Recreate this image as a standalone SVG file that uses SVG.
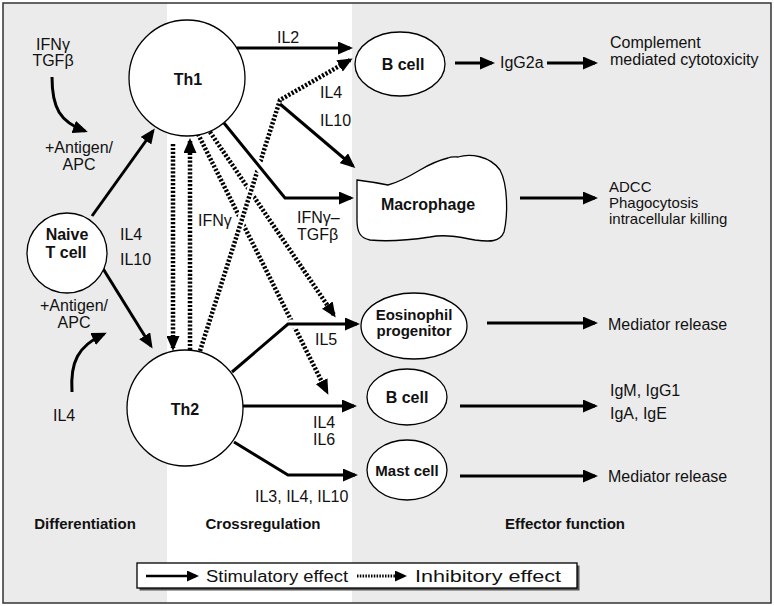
<svg xmlns="http://www.w3.org/2000/svg" width="774" height="606" viewBox="0 0 774 606">
<defs>
<marker id="ah" markerUnits="userSpaceOnUse" markerWidth="15" markerHeight="13" refX="12" refY="6.5" orient="auto">
<path d="M0,0 L15,6.5 L0,13 Z" fill="#000"/>
</marker>
<marker id="ahs" markerUnits="userSpaceOnUse" markerWidth="12" markerHeight="11" refX="9" refY="5.5" orient="auto">
<path d="M0,0 L12,5.5 L0,11 Z" fill="#000"/>
</marker>
</defs>
<style>
text{font-family:"Liberation Sans",Arial,sans-serif;font-size:16px;fill:#111}
.b{font-weight:bold}
.c{text-anchor:middle}
.sm{font-size:15px}
.node{fill:#fff;stroke:#000;stroke-width:1.3}
.s{fill:none;stroke:#000;stroke-width:3;marker-end:url(#ah)}
.d{fill:none;stroke:#000;stroke-width:4.5;stroke-dasharray:2.2 1.7;marker-end:url(#ah)}
.h{fill:none;stroke:#fff;stroke-width:9}
</style>
<rect x="0" y="0" width="774" height="606" fill="#fff"/>
<rect x="3" y="3" width="164" height="600" fill="#ebebeb"/>
<rect x="352" y="3" width="419" height="600" fill="#ebebeb"/>
<rect x="3" y="3" width="768" height="600" fill="none" stroke="#333" stroke-width="1.5"/>

<g id="connectors">
<path class="s" d="M52,77 C52,108 60,122 85,131"/>
<path class="s" d="M72,392 C70,362 78,346 104,334"/>
<line class="s" x1="92" y1="216" x2="153" y2="131"/>
<line class="s" x1="102" y1="267" x2="151" y2="346"/>
<line class="d" x1="173" y1="144" x2="173" y2="348"/>
<line class="d" x1="190" y1="350" x2="190" y2="141"/>
<line class="d" x1="210" y1="132" x2="334" y2="315"/>
<line class="d" x1="198" y1="134" x2="327" y2="392"/>
<path class="h" d="M203,338 L279,104"/>
<path class="d" d="M200,351 L280,100 L350,60"/>
<line class="s" x1="237" y1="48" x2="350" y2="48"/>
<path class="h" d="M240,143 L283,196"/>
<path class="s" d="M224,123 L285,198 L351,198"/>
<line class="s" x1="280" y1="104" x2="353" y2="166"/>
<path class="h" d="M289,324 L342,324"/>
<path class="s" d="M232,372 L288,324 L357,324"/>
<line class="s" x1="243" y1="406" x2="354" y2="406"/>
<path class="s" d="M234,442 L288,475 L355,475"/>
<line class="s" x1="455" y1="63" x2="492" y2="63"/>
<line class="s" x1="547" y1="63" x2="595" y2="63"/>
<line class="s" x1="520" y1="198" x2="595" y2="198"/>
<line class="s" x1="487" y1="323" x2="595" y2="323"/>
<line class="s" x1="460" y1="406" x2="595" y2="406"/>
<line class="s" x1="460" y1="476" x2="595" y2="476"/>
</g>

<g id="th1"><circle class="node" cx="187" cy="78" r="58"/><text class="b c" x="188" y="85">Th1</text></g>
<g id="th2"><circle class="node" cx="185" cy="408" r="58"/><text class="b c" x="185" y="415">Th2</text></g>
<g id="naive"><circle class="node" cx="67" cy="253" r="40"/><text class="b c" x="67" y="240">Naive</text><text class="b c" x="66" y="258">T cell</text></g>
<g id="bcell1"><ellipse class="node" cx="400" cy="64" rx="45" ry="32"/><text class="b c" x="403" y="70">B cell</text></g>
<g id="macrophage"><path class="node" d="M357,180 C365,181 378,183 388,185 C400,182 410,176 420,170 C430,164 440,160 448,158 C452,156 455,157 458,157 C470,153 490,156 500,170 C508,185 508,215 504,232 C500,242 490,242 475,240 C460,237 445,234 430,237 C410,240 390,242 370,240 C360,238 357,232 357,220 Z"/><text class="b c" x="428" y="210">Macrophage</text></g>
<g id="eosinophil"><ellipse class="node" cx="414" cy="326" rx="53" ry="33"/><text class="b c sm" x="414" y="320">Eosinophil</text><text class="b c sm" x="414" y="336">progenitor</text></g>
<g id="bcell2"><ellipse class="node" cx="407" cy="397" rx="40" ry="28"/><text class="b c" x="407" y="403">B cell</text></g>
<g id="mastcell"><ellipse class="node" cx="407" cy="470" rx="40" ry="30"/><text class="b c sm" x="407" y="476">Mast cell</text></g>

<g id="labels">
<text class="c" x="53" y="50">IFNγ</text>
<text class="c" x="53" y="66">TGFβ</text>
<text class="c" x="79" y="153">+Antigen/</text>
<text class="c" x="79" y="170">APC</text>
<text x="120" y="240">IL4</text>
<text x="120" y="265">IL10</text>
<text class="c" x="74" y="311">+Antigen/</text>
<text class="c" x="74" y="328">APC</text>
<text x="53" y="421">IL4</text>
<text x="277" y="43">IL2</text>
<text x="320" y="98">IL4</text>
<text x="320" y="126">IL10</text>
<text x="198" y="226">IFNγ</text>
<text x="297" y="223">IFNγ–</text>
<text x="297" y="240">TGFβ</text>
<text x="315" y="345">IL5</text>
<text x="313" y="428">IL4</text>
<text x="313" y="445">IL6</text>
<text x="255" y="502">IL3, IL4, IL10</text>
<text x="500" y="68">IgG2a</text>
<text x="610" y="48">Complement</text>
<text x="610" y="65">mediated cytotoxicity</text>
<text class="sm" x="609" y="192">ADCC</text>
<text class="sm" x="609" y="208">Phagocytosis</text>
<text class="sm" x="609" y="224">intracellular killing</text>
<text x="608" y="330">Mediator release</text>
<text x="610" y="396">IgM, IgG1</text>
<text x="610" y="419">IgA, IgE</text>
<text x="608" y="482">Mediator release</text>
<text class="b c sm" x="85" y="529">Differentiation</text>
<text class="b c sm" x="263" y="529">Crossregulation</text>
<text class="b c sm" x="565" y="529">Effector function</text>
</g>

<g id="legend">
<rect x="139.5" y="565.5" width="440" height="25" fill="#555"/>
<rect x="137" y="563" width="440" height="25" fill="#fff" stroke="#000" stroke-width="1.3"/>
<line x1="146" y1="576" x2="196" y2="576" stroke="#000" stroke-width="2.5" marker-end="url(#ahs)"/>
<text x="206" y="582" textLength="142" lengthAdjust="spacingAndGlyphs">Stimulatory effect</text>
<line x1="357" y1="576" x2="404" y2="576" stroke="#000" stroke-width="3" stroke-dasharray="1.5 1.3" marker-end="url(#ahs)"/>
<text x="415" y="582" textLength="146" lengthAdjust="spacingAndGlyphs">Inhibitory effect</text>
</g>
</svg>
